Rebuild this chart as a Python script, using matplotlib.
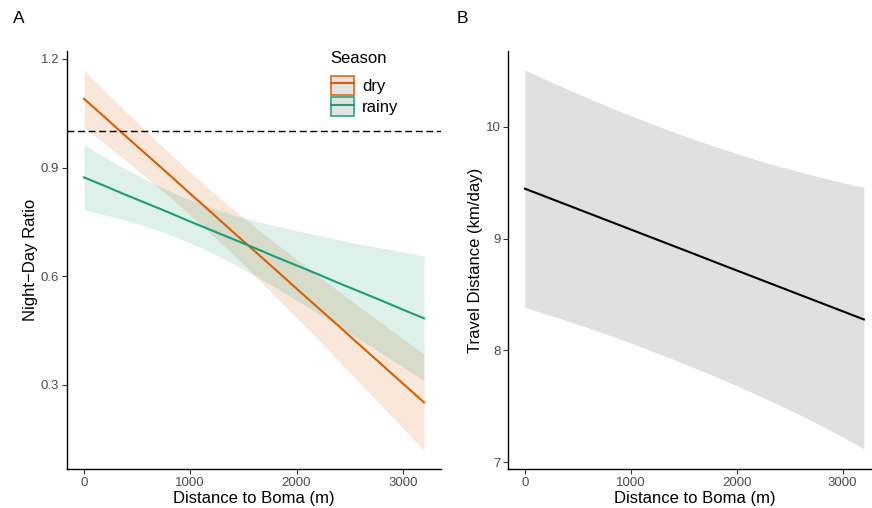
import numpy as np
import matplotlib
matplotlib.use("Agg")
import matplotlib.pyplot as plt
from matplotlib.patches import Patch
from matplotlib.lines import Line2D
from matplotlib.legend_handler import HandlerTuple

plt.rcParams['font.family'] = ['Liberation Sans', 'DejaVu Sans']

# =============================================================================
# Data (fitted lines and 95% bands, every 200 m)
# =============================================================================
distance = [0, 200, 400, 600, 800, 1000, 1200, 1400, 1600,
            1800, 2000, 2200, 2400, 2600, 2800, 3000, 3200]

# panel A: night-day ratio by season
dry_fit   = [1.090, 1.038, 0.985, 0.933, 0.881, 0.828, 0.776, 0.723, 0.671,
             0.619, 0.566, 0.514, 0.462, 0.409, 0.357, 0.304, 0.252]
dry_upper = [1.170, 1.111, 1.053, 0.996, 0.941, 0.887, 0.836, 0.786, 0.738,
             0.692, 0.647, 0.602, 0.558, 0.514, 0.471, 0.428, 0.385]
dry_lower = [1.010, 0.965, 0.918, 0.870, 0.821, 0.769, 0.716, 0.661, 0.604,
             0.545, 0.486, 0.426, 0.365, 0.304, 0.243, 0.181, 0.119]

rainy_fit   = [0.873, 0.849, 0.824, 0.800, 0.776, 0.751, 0.727, 0.703, 0.679,
               0.654, 0.630, 0.606, 0.581, 0.557, 0.533, 0.508, 0.484]
rainy_upper = [0.963, 0.928, 0.895, 0.864, 0.836, 0.811, 0.789, 0.770, 0.754,
               0.739, 0.726, 0.713, 0.701, 0.689, 0.678, 0.667, 0.656]
rainy_lower = [0.783, 0.769, 0.754, 0.736, 0.716, 0.692, 0.665, 0.635, 0.603,
               0.569, 0.534, 0.498, 0.462, 0.425, 0.387, 0.350, 0.312]

ratio_ref = 1.0

# panel B: travel distance (km/day)
travel_fit   = [9.446, 9.373, 9.300, 9.227, 9.154, 9.081, 9.008, 8.935, 8.862,
                8.788, 8.715, 8.642, 8.569, 8.496, 8.423, 8.350, 8.277]
travel_upper = [10.507, 10.420, 10.336, 10.254, 10.175, 10.099, 10.025, 9.954,
                9.886, 9.821, 9.760, 9.701, 9.646, 9.594, 9.545, 9.500, 9.459]
travel_lower = [8.384, 8.326, 8.264, 8.201, 8.134, 8.066, 7.994, 7.921, 7.844,
                7.766, 7.684, 7.600, 7.512, 7.422, 7.327, 7.227, 7.120]

seasons = ['dry', 'rainy']
season_colors = {'dry': '#D95F02', 'rainy': '#1B9E77'}

xticks  = [0, 1000, 2000, 3000]
yticksA = [0.3, 0.6, 0.9, 1.2]
yticksB = [7, 8, 9, 10]

# =============================================================================
# Styling helpers (ggplot theme_classic look)
# =============================================================================
def style_axes(ax):
    for side in ['top', 'right']:
        ax.spines[side].set_visible(False)
    for side in ['left', 'bottom']:
        ax.spines[side].set_linewidth(1.0)
        ax.spines[side].set_color('black')
    ax.tick_params(axis='both', length=3.5, width=0.8, color='#333333',
                   labelcolor='#4D4D4D', labelsize=9.5, pad=2)
    ax.set_xlabel('Distance to Boma (m)', fontsize=12, labelpad=2)


fig = plt.figure(figsize=(8.72, 5.08), dpi=100)
W, H = 872.0, 508.0

# ── Panel A ──────────────────────────────────────────────────────────────────
axA = fig.add_axes([67 / W, 39 / H, 374 / W, 418 / H])
series = {
    'dry':   (dry_fit, dry_lower, dry_upper),
    'rainy': (rainy_fit, rainy_lower, rainy_upper),
}
for s in seasons:
    fit, lo, hi = series[s]
    axA.fill_between(distance, lo, hi, color=season_colors[s], alpha=0.15,
                     linewidth=0)
for s in seasons:
    fit, lo, hi = series[s]
    axA.plot(distance, fit, color=season_colors[s], lw=1.5)

axA.axhline(ratio_ref, color='black', lw=1.0, ls=(0, (5, 2.6)))
axA.set_xlim(-160, 3360)
axA.set_ylim(0.068, 1.222)
axA.set_xticks(xticks)
axA.set_yticks(yticksA)
axA.set_yticklabels([f'{v:.1f}' for v in yticksA])
axA.set_ylabel('Night\u2212Day Ratio', fontsize=12, labelpad=2)
style_axes(axA)

handles = [(Patch(facecolor='#DFDFDF', edgecolor=season_colors[s], lw=1.3,
                  alpha=0.85),
            Line2D([], [], color=season_colors[s], lw=1.5)) for s in seasons]
leg = axA.legend(handles, seasons, title='Season', loc='upper left',
                 bbox_to_anchor=(0.705, 1.0), frameon=False,
                 fontsize=12, title_fontsize=12,
                 handlelength=1.4, handleheight=1.4, handletextpad=0.5,
                 labelspacing=0.12, borderpad=0, borderaxespad=0,
                 handler_map={tuple: HandlerTuple(ndivide=1, pad=0)})
leg._legend_box.align = 'left'
leg._legend_box.sep = 7

# ── Panel B ──────────────────────────────────────────────────────────────────
axB = fig.add_axes([508 / W, 39 / H, 372.8 / W, 418 / H])
axB.fill_between(distance, travel_lower, travel_upper, color='#E0E0E0',
                 linewidth=0)
axB.plot(distance, travel_fit, color='black', lw=1.5)
axB.set_xlim(-160, 3360)
axB.set_ylim(6.94, 10.677)
axB.set_xticks(xticks)
axB.set_yticks(yticksB)
axB.set_ylabel('Travel Distance (km/day)', fontsize=12, labelpad=2)
style_axes(axB)

# panel tags
fig.text(13 / W, 1 - 18.5 / H, 'A', fontsize=12.5, va='center', ha='left')
fig.text(457 / W, 1 - 18.5 / H, 'B', fontsize=12.5, va='center', ha='left')

fig.savefig('out.png', dpi=100)
